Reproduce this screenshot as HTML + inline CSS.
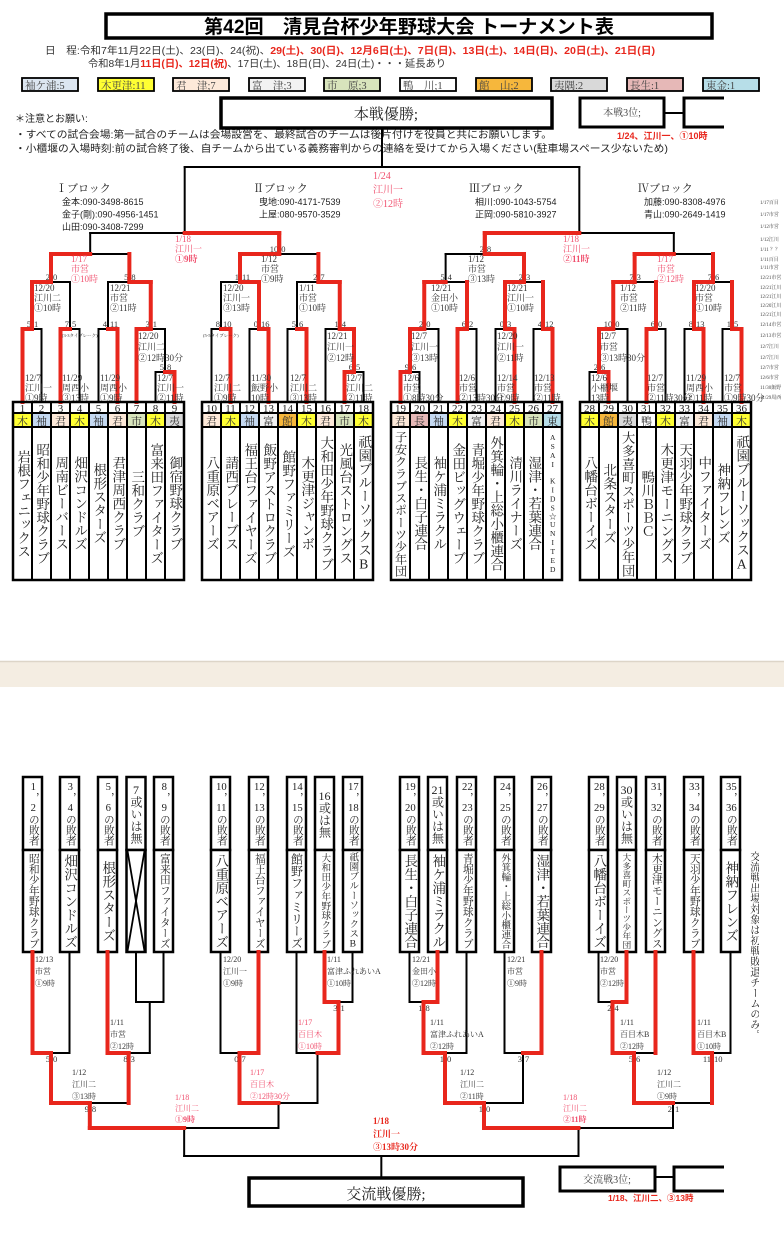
<!DOCTYPE html>
<html><head><meta charset="utf-8">
<style>
html,body{margin:0;padding:0;background:#fff;}
#w{position:relative;width:784px;height:1234px;overflow:hidden;background:#fff;}
svg{position:absolute;left:0;top:0;}
.v{position:absolute;writing-mode:vertical-rl;text-orientation:upright;display:flex;align-items:center;justify-content:center;font-family:"Liberation Serif","Noto Serif CJK JP","Noto Serif CJK SC",serif;color:#222;line-height:1;white-space:nowrap;overflow:hidden;}
.tcy{text-combine-upright:all;}
</style></head><body>
<div id="w">
<svg id="s" width="784" height="1234" xmlns="http://www.w3.org/2000/svg"></svg>
</div>
<script>
const S=document.getElementById('s'),W=document.getElementById('w');
const NS='http://www.w3.org/2000/svg';
const SER='"Liberation Serif","Noto Serif CJK JP","Noto Serif CJK SC",serif';
const SAN='"Liberation Sans","Noto Sans CJK JP",sans-serif';
function el(t,a,p){const e=document.createElementNS(NS,t);for(const k in a)e.setAttribute(k,a[k]);(p||S).appendChild(e);return e;}
function L(x1,y1,x2,y2,c,w){el('line',{x1,y1,x2,y2,stroke:c||'#000','stroke-width':w||2,'stroke-linecap':'square'});}
function R(x,y,w,h,f,sw){el('rect',{x,y,width:w,height:h,fill:f||'none',stroke:'#000','stroke-width':sw||2});}
function T(x,y,s,o){o=o||{};const e=el('text',{x,y,'font-size':o.sz||9,fill:o.c||'#333','font-family':o.f||SER,'font-weight':o.b?'bold':'normal','text-anchor':o.a||'start'});if(o.tl){e.setAttribute('textLength',o.tl);e.setAttribute('lengthAdjust','spacingAndGlyphs');}e.textContent=s;return e;}
function LB(x,y,lines,c,sp,sz,boldLast){lines.forEach((s,i)=>T(x,y+i*(sp||10),s,{c:c||'#333',sz:sz||9,b:boldLast&&i==lines.length-1}));}
const PK='#f0506e',RD='#e8261c';
el('rect',{x:0,y:661,width:784,height:26,fill:'#f4ede2'});
L(0,661.5,784,661.5,'#ddd5c8',1.5);
R(106,14,606,24,'none',3.5);
T(409,33,'第42回　清見台杯少年野球大会 トーナメント表',{sz:19,b:1,c:'#000',f:SAN,a:'middle',tl:410});
let t1=T(45,54,'',{sz:10,c:'#333',f:SAN,tl:610});
t1.innerHTML='日　程:令和7年11月22日(土)、23(日)、24(祝)、<tspan fill="'+RD+'" font-weight="bold">29(土)、30(日)、12月6日(土)、7日(日)、13日(土)、14日(日)、20日(土)、21日(日)</tspan>';
let t2=T(88,67,'',{sz:10,c:'#333',f:SAN,tl:358});
t2.innerHTML='令和8年1月<tspan fill="'+RD+'" font-weight="bold">11日(日)、12日(祝)</tspan>、17日(土)、18日(日)、24日(土)・・・延長あり';
[[22,'袖ケ浦:5','#dce6f1'],[98,'木更津:11','#ffff33'],[173,'君　津;7','#fde9d9'],[249,'富　津;3','#f2f2f2'],[324,'市　原;3','#d8e4bc'],[400,'鴨　川;1','#fff'],[476,'館　山;2','#f6b73c'],[551,'夷隅:2','#d9d9d9'],[627,'長生:1','#e6b8b7'],[703,'東金:1','#b7dee8']].forEach(a=>{R(a[0],78,56,13,a[2],1.8);T(a[0]+3,89,a[1],{sz:10.5,c:'#444'});});
R(221,98,331,30,'none',3.5);T(386,119,'本戦優勝;',{sz:15,c:'#222',a:'middle'});
R(580,98,84,29,'none',3);T(622,116,'本戦3位;',{sz:10,c:'#444',a:'middle'});
L(664,113,683,113,'#000',2);
el('path',{d:'M724 98 H684 V127 H724',fill:'none',stroke:'#000','stroke-width':3});
T(617,139,'1/24、江川一、①10時',{sz:9,c:RD,b:1,f:SAN});
T(15,122,'＊注意とお願い:',{sz:10,c:'#222',f:SAN});
T(15,138,'・すべての試合会場:第一試合のチームは会場設営を、最終試合のチームは後片付けを役員と共にお願いします。',{sz:10,c:'#222',f:SAN,tl:537});
T(15,152,'・小櫃堰の入場時刻:前の試合終了後、自チームから出ている義務審判からの連絡を受けてから入場ください(駐車場スペース少ないため)',{sz:10,c:'#222',f:SAN,tl:653});
[[56,'Ⅰブロック',['金本:090-3498-8615','金子(剛):090-4956-1451','山田:090-3408-7299']],[253,'Ⅱブロック',['曳地:090-4171-7539','上屋:080-9570-3529']],[469,'Ⅲブロック',['相川:090-1043-5754','正岡:090-5810-3927']],[638,'Ⅳブロック',['加藤:090-8308-4976','青山:090-2649-1419']]].forEach(b=>{T(b[0],192,b[1],{sz:11,c:'#222'});b[2].forEach((s,i)=>T(b[0]+6,205+i*12.5,s,{sz:9,c:'#222',f:SAN}));});
['1/17百目','1/17市営','1/12市営','1/12江川','1/11？？','1/11百目','1/11市営','12/21市営','12/21江川','12/21江川','12/20江川','12/21江川','12/14市営','12/13市営','12/7江川','12/7江川','12/7市営','12/6市営','11/30飯野','11/29周西'].forEach((s,i)=>{const ys=[202,214,226,239,249,259,267,277,287,296,305,314,324,335,346,357,367,377,387,397];T(760,ys[i]+2,s,{sz:5,c:'#444'});});

const reds=[];let leafX,leafY,scoreBelow;
function N(l,r,y,win,sc){return{l,r,y,win,sc};}
function cx(c){return typeof c=='number'?leafX(c):c.x;}
function cy(c){return typeof c=='number'?leafY:c.y;}
function draw(n){
 if(typeof n.l!='number')draw(n.l);if(typeof n.r!='number')draw(n.r);
 const lx=cx(n.l),rx=cx(n.r);n.x=(lx+rx)/2;
 L(lx,n.y,rx,n.y);L(lx,n.y,lx,cy(n.l));L(rx,n.y,rx,cy(n.r));
 if(n.win=='l'||n.win=='b'){reds.push([lx,cy(n.l),lx,n.y]);reds.push([lx,n.y,n.x,n.y]);}
 if(n.win=='r'||n.win=='b'){reds.push([rx,cy(n.r),rx,n.y]);}
 if(n.win=='r'){reds.push([rx,n.y,n.x,n.y]);}
 if(n.sc){const yy=scoreBelow?n.y+9:n.y-2;T(n.x-1,yy,n.sc[0],{sz:8.5,c:'#333',a:'end'});T(n.x+2,yy,n.sc[1],{sz:8.5,c:'#333'});}
}
const BX=[13,202,391,580];
leafX=n=>BX[Math.floor((n-1)/9)]+19*((n-1)%9)+9.5;leafY=402;scoreBelow=false;
const A=N(1,2,329,'l',['5','1']),B=N(3,4,329,'l',['7','5']),C=N(5,6,329,'r',['4','11']),D=N(8,9,372,'r',['5','8']),E=N(7,D,329,'l',['3','1']);
const F=N(A,B,282,'l',['2','0']),G=N(C,E,282,'r',['5','8']),H=N(F,G,254,'b');
const a2=N(10,11,329,'r',['8','10']),b2=N(12,13,329,'r',['0','16']),c2=N(14,15,329,'r',['5','6']),D2=N(17,18,372,'l',['6','5']),E2=N(16,D2,329,'r',['1','4']);
const F2=N(a2,b2,282,'r',['1','11']),G2=N(c2,E2,282,'r',['2','7']),H2=N(F2,G2,254,'b',['10','0']);
const D3=N(19,20,372,'l',['9','6']),E3=N(D3,21,329,'l',['2','0']),c3=N(22,23,329,'l',['6','2']),d3=N(24,25,329,'r',['0','3']),e3=N(26,27,329,'r',['4','12']);
const F3=N(E3,c3,282,'b',['5','4']),G3=N(d3,e3,282,'b',['2','3']),H3=N(F3,G3,254,'r',['2','8']);
const D4=N(28,29,372,'r',['2','6']),E4=N(D4,30,329,'l',['10','0']),c4=N(31,32,329,'l',['6','0']),d4=N(33,34,329,'r',['8','13']),e4=N(35,36,329,'r',['1','5']);
const F4=N(E4,c4,282,'b',['7','3']),G4=N(d4,e4,282,'b',['7','6']),H4=N(F4,G4,254,'b');
const T12=N(H,H2,233,'r'),T34=N(H3,H4,233,'l'),TOP=N(T12,T34,167,null);
draw(TOP);L(TOP.x,128,TOP.x,167);
reds.push([H2.x,254,H2.x,233],[H3.x,254,H3.x,233]);
reds.forEach(r=>L(r[0],r[1],r[2],r[3],RD,4));reds.length=0;
const G9='#333';
LB(25,381,['12/7','江川一','①9時']);LB(62,381,['11/29','周西小','③13時']);LB(100,381,['11/29','周西小','①9時']);LB(157,381,['12/7','江川一','②11時']);
LB(138,339,['12/20','江川二','②12時30分'],G9,11);LB(34,291,['12/20','江川二','①10時']);LB(110,291,['12/21','市営','②11時']);
LB(71,262,['1/17','市営','①10時'],PK);
T(62,337,'(3-3タイブレーク)',{sz:4.5});T(203,337,'(5-5タイブレーク)',{sz:4.5});
LB(214,381,['12/7','江川二','①9時']);LB(251,381,['11/30','飯野小','10時']);LB(290,381,['12/7','江川二','③13時']);LB(346,381,['12/7','江川二','②11時']);
LB(327,339,['12/21','江川一','②12時'],G9,11);LB(223,291,['12/20','江川一','③13時']);LB(299,291,['1/11','市営','①10時']);LB(261,262,['1/12','市営','①9時']);
LB(175,242,['1/18','江川一','①9時'],PK,10,9,true);
LB(373,179,['1/24','江川一','②12時'],PK,14,10);
LB(403,381,['12/6','市営','①8時30分']);LB(411,339,['12/7','江川一','③13時'],G9,11);LB(459,381,['12/6','市営','②13時30分']);
LB(497,339,['12/20','江川一','②11時'],G9,11);LB(497,381,['12/14','市営','①9時']);LB(534,381,['12/13','市営','②11時']);
LB(431,291,['12/21','金田小','①10時']);LB(507,291,['12/21','江川一','①10時']);LB(468,262,['1/12','市営','③13時']);
LB(563,242,['1/18','江川一','②11時'],PK,10,9,true);
LB(591,381,['12/6','小櫃堰','13時']);LB(600,339,['12/7','市営','③13時30分'],G9,11);LB(647,381,['12/7','市営','②11時30分']);
LB(686,381,['11/29','周西小','②11時']);LB(724,381,['12/7','市営','①9時30分']);
LB(620,291,['1/12','市営','②11時']);LB(695,291,['12/20','市営','①10時']);LB(657,262,['1/17','市営','②12時'],PK);

const COL={'木':'#ffff33','袖':'#c5d9f1','君':'#fde9d9','市':'#d8e4bc','夷':'#d9d9d9','富':'#f2f2f2','館':'#f6b73c','長':'#e6b8b7','東':'#b7dee8','鴨':'#fff'};
const TM=[['木','岩根フェニックス'],['袖','昭和少年野球クラブ'],['君','周南ビーバース'],['木','畑沢コンドルズ'],['袖','根形スターズ'],['君','君津周西クラブ'],['市','三和クラブ'],['木','富来田ファイターズ'],['夷','御宿野球クラブ'],
['君','八重原ベアーズ'],['木','請西ブレーブス'],['袖','福王台ファイヤーズ'],['富','飯野アストロクラブ'],['館','館野ファミリーズ'],['木','木更津ジャンボ'],['君','大和田少年野球クラブ'],['市','光風台ストロングス'],['木','祇園ブルーソックスB'],
['君','子安クラブスポーツ少年団'],['長','長生・白子連合'],['袖','袖ケ浦ミラクル'],['木','金田ビッグウェーブ'],['富','青堀少年野球クラブ'],['君','外箕輪・上総小櫃連合'],['木','清川ライナーズ'],['市','湿津・若葉連合'],['東','ASAI KIDS☆UNITED'],
['木','八幡台ボーイズ'],['館','北条スターズ'],['夷','大多喜町スポーツ少年団'],['鴨','鴨川ＢＢＣ'],['木','木更津モーニングス'],['富','天羽少年野球クラブ'],['君','中ファイターズ'],['袖','神納フレンズ'],['木','祇園ブルーソックスA']];
function VT(x,y,w,h,s,sz,html){const d=document.createElement('div');d.className='v';d.style.cssText+=`left:${x}px;top:${y}px;width:${w}px;height:${h}px;font-size:${sz}px;`;if(html)d.innerHTML=s;else d.textContent=s;W.appendChild(d);return d;}
for(let b=0;b<4;b++){const x0=BX[b];
 for(let i=0;i<9;i++){const n=b*9+i+1,x=x0+19*i,t=TM[n-1];
  el('rect',{x,y:413,width:19,height:14,fill:COL[t[0]]});
  T(x+9.5,412,String(n),{sz:11,c:'#222',a:'middle'});
  T(x+9.5,425,t[0],{sz:11,c:'#333',a:'middle'});
  if(n==27){VT(x,428,19,151,'ASAI　KIDS☆UNITED',7.5);}
  else{const sz=Math.min(13.5,146/t[1].length);VT(x,428,19,151,t[1],sz);}
  if(i>0)L(x,402,x,580,'#000',2);
 }
 R(x0,402,171,178,'none',2.5);L(x0,413,x0+171,413,'#000',2);L(x0,427,x0+171,427,'#000',2);
}

const BB=[32.5,69.5,107.5,136,163.5,220.5,258.5,296.5,324.5,352.5,409.5,437.5,466.5,504.5,541.5,598.5,626.5,655.5,693.5,730.5];
const BT=[['1，2の敗者','昭和少年野球クラブ'],['3，4の敗者','畑沢コンドルズ'],['5，6の敗者','根形スターズ'],['7或いは無',''],['8，9の敗者','富来田ファイターズ'],['10，11の敗者','八重原ベアーズ'],['12，13の敗者','福王台ファイヤーズ'],['14，15の敗者','館野ファミリーズ'],['16或は無','大和田少年野球クラブ'],['17，18の敗者','祇園ブルーソックスB'],
['19，20の敗者','長生・白子連合'],['21或いは無','袖ケ浦ミラクル'],['22，23の敗者','青堀少年野球クラブ'],['24，25の敗者','外箕輪・上総小櫃連合'],['26，27の敗者','湿津・若葉連合'],['28，29の敗者','八幡台ボーイズ'],['30或いは無','大多喜町スポーツ少年団'],['31，32の敗者','木更津モーニングス'],['33，34の敗者','天羽少年野球クラブ'],['35，36の敗者','神納フレンズ']];
BB.forEach((c,i)=>{const x=c-9.5;R(x,777,19,73,'#fff',2.5);R(x,850,19,102,'#fff',2.5);
 const u=BT[i][0];const cnt=u.replace(/\d+/g,'0').length;
 VT(x+1,779,17,69,u.replace(/(\d+)/g,'<span class="tcy">$1</span>'),Math.min(12,64/cnt),true);
 if(BT[i][1])VT(x+1,852,17,98,BT[i][1],Math.min(13.5,96/BT[i][1].length));
 else{L(x+1,851,x+18,951,'#000',1.8);L(x+18,851,x+1,951,'#000',1.8);}
});
leafX=n=>BB[n-1];leafY=952;scoreBelow=true;
const b45=N(4,5,1002,null),L1=N(1,2,1053,'l',['5','0']),L2=N(3,b45,1053,'l',['8','3']),L12=N(L1,L2,1103,'b',['9','8']);
const M1=N(6,7,1053,'r',['0','7']),b910=N(9,10,1002,'l',['3','1']),M2=N(8,b910,1053,'r'),M=N(M1,M2,1103,'l');
const LT=N(L12,M,1128,'l');
const n1921=N(11,12,1002,'r',['1','8']),R1=N(n1921,13,1053,'l',['1','0']),R2=N(14,15,1053,'r',['3','7']),R12=N(R1,R2,1103,'l',['1','0']);
const n2830=N(16,17,1002,'r',['2','4']),R3=N(n2830,18,1053,'b',['5','6']),R4=N(19,20,1053,'l',['11','10']),R34=N(R3,R4,1103,'b',['2','1']);
const RT=N(R12,R34,1128,'l');const FIN=N(LT,RT,1156,null);
draw(FIN);L(FIN.x,1156,FIN.x,1178);
reds.forEach(r=>L(r[0],r[1],r[2],r[3],RD,4));
R(249,1178,274,28,'#fff',3.5);T(386,1199,'交流戦優勝;',{sz:15,c:'#222',a:'middle'});
R(560,1167,95,24,'#fff',3);T(607,1183,'交流戦3位;',{sz:10,c:'#444',a:'middle'});
L(655,1177,674,1177,'#000',2);el('path',{d:'M724 1167 H674 V1191 H724',fill:'none',stroke:'#000','stroke-width':3});
T(608,1201,'1/18、江川二、③13時',{sz:8.5,c:RD,b:1,f:SAN});
LB(35,962,['12/13','市営','①9時'],G9,12,8);LB(110,1025,['1/11','市営','②12時'],G9,12,8);
LB(223,962,['12/20','江川一','①9時'],G9,12,8);LB(327,962,['1/11','富津ふれあいA','①10時'],G9,12,8);
LB(298,1025,['1/17','百目木','①10時'],PK,12,8);LB(250,1075,['1/17','百目木','②12時30分'],PK,12,8);
LB(72,1075,['1/12','江川二','③13時'],G9,12,8);LB(175,1100,['1/18','江川二','①9時'],PK,11,8,true);
LB(373,1124,['1/18','江川一','③13時30分'],RD,13,9);
LB(412,962,['12/21','金田小','②12時'],G9,12,8);LB(430,1025,['1/11','富津ふれあいA','②12時'],G9,12,8);
LB(507,962,['12/21','市営','①9時'],G9,12,8);LB(460,1075,['1/12','江川二','②11時'],G9,12,8);
LB(563,1100,['1/18','江川二','②11時'],PK,11,8,true);
LB(600,962,['12/20','市営','②12時'],G9,12,8);LB(620,1025,['1/11','百目木B','②12時'],G9,12,8);
LB(697,1025,['1/11','百目木B','①10時'],G9,12,8);LB(657,1075,['1/12','江川二','①9時'],G9,12,8);
VT(745,850,14,190,'交流戦出場対象は初戦敗退チームのみ。',10.5).style.alignItems='flex-start';
document.querySelectorAll('text').forEach(t=>{if(t.getAttribute('fill')==RD&&t.getAttribute('x')=='373')t.setAttribute('font-weight','bold');});
</script>
</body></html>
